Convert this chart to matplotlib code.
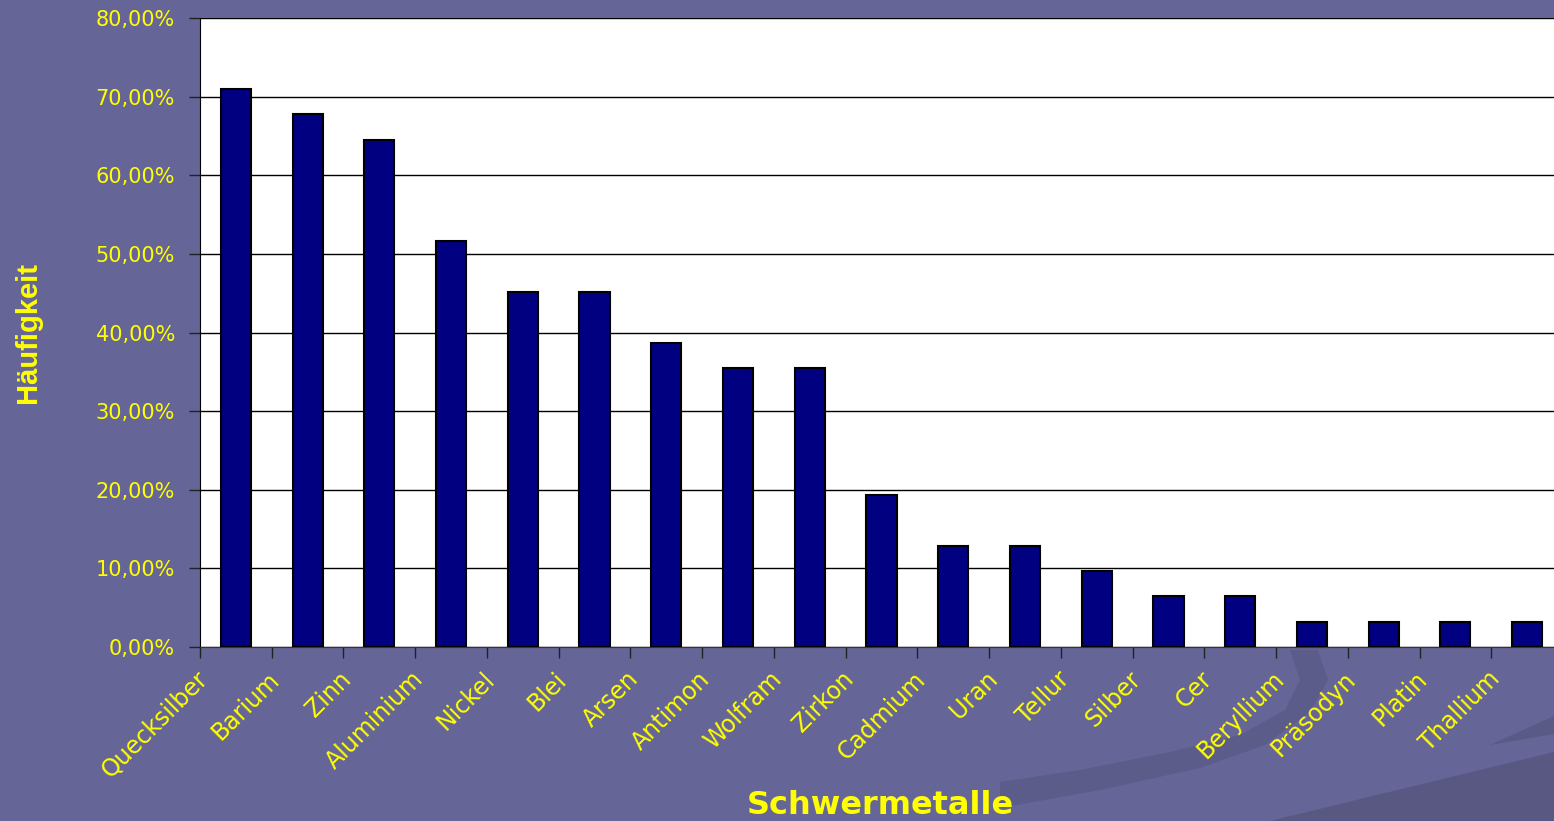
import numpy as np
import matplotlib
matplotlib.use("Agg")
import matplotlib.pyplot as plt
from matplotlib.patches import Polygon
from matplotlib.ticker import FuncFormatter, MultipleLocator
from matplotlib.transforms import ScaledTranslation

metals = ["Quecksilber", "Barium", "Zinn", "Aluminium", "Nickel", "Blei", "Arsen",
          "Antimon", "Wolfram", "Zirkon", "Cadmium", "Uran", "Tellur", "Silber",
          "Cer", "Beryllium", "Präsodyn", "Platin", "Thallium"]
frequency = [70.97, 67.74, 64.52, 51.61, 45.16, 45.16, 38.71, 35.48, 35.48, 19.35,
             12.90, 12.90, 9.68, 6.45, 6.45, 3.23, 3.23, 3.23, 3.23]

BG = "#656597"
YELLOW = "#ffff00"

fig = plt.figure(figsize=(15.54, 8.21), dpi=100, facecolor=BG)

# slide background decoration (dark swooshes, lower right), in pixel space
deco = fig.add_axes([0, 0, 1, 1], zorder=-1)
deco.set_xlim(0, 1554)
deco.set_ylim(821, 0)
deco.axis("off")
outer = [(1000, 808), (1100, 790), (1200, 768), (1265, 745), (1310, 712), (1328, 680), (1318, 650)]
inner = [(1290, 650), (1300, 680), (1285, 710), (1240, 735), (1170, 752), (1080, 770), (1000, 782)]
deco.add_patch(Polygon(outer + inner, closed=True, color="#5c5c8b", lw=0))
deco.add_patch(Polygon([(1270, 821), (1554, 752), (1554, 821)], closed=True, color="#585882", lw=0))
deco.add_patch(Polygon([(1490, 745), (1554, 716), (1554, 734)], closed=True, color="#5a5a86", lw=0))

ax = fig.add_axes([200 / 1554, 1 - 647 / 821, 1363 / 1554, 629 / 821])
ax.set_facecolor("white")

x = np.arange(len(metals))
ax.bar(x, frequency, width=0.42, color="#000080", edgecolor="black", linewidth=1.5, zorder=3)

ax.set_xlim(-0.5, len(metals) - 0.5)
ax.set_ylim(0, 80)
ax.yaxis.set_major_locator(MultipleLocator(10))
ax.yaxis.set_major_formatter(FuncFormatter(lambda v, p: f"{v:.2f}%".replace(".", ",")))
ax.grid(axis="y", color="black", lw=1, zorder=1)

for s in ["top", "right"]:
    ax.spines[s].set_visible(False)
ax.spines["left"].set_color("black")
ax.spines["bottom"].set_color("#333333")

ax.tick_params(axis="y", direction="out", length=8, width=1, color="#222222",
               labelcolor=YELLOW, labelsize=15, pad=10)
ax.set_xticks(np.arange(len(metals)) - 0.5)
ax.set_xticklabels([])
ax.tick_params(axis="x", direction="out", length=8, width=1, color="#222222")
for lab in ax.get_yticklabels():
    lab.set_family("DejaVu Sans")

# category labels: rotated, ending a bit left of and below each category centre
off = ScaledTranslation(-40 / 100, -20 / 100, fig.dpi_scale_trans)
for i, name in enumerate(metals):
    ax.text(i, 0, name, transform=ax.get_xaxis_transform() + off,
            rotation=45, rotation_mode="anchor", ha="right", va="top",
            color=YELLOW, fontsize=17, family="DejaVu Sans")

fig.text(880 / 1554, 1 - 814 / 821, "Schwermetalle", ha="center", va="baseline",
         color=YELLOW, fontsize=23, fontweight="bold", family="DejaVu Sans")
fig.text(28 / 1554, 1 - 332 / 821, "Häufigkeit", ha="center", va="center", rotation=90,
         color=YELLOW, fontsize=21, fontweight="bold",
         family=["Liberation Sans Narrow", "Liberation Sans", "DejaVu Sans"])

fig.savefig("out.png", dpi=100, facecolor=BG)
